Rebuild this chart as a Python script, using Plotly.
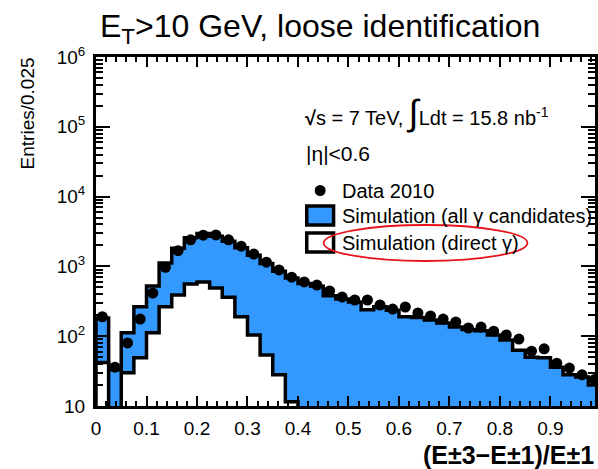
import numpy as np
import plotly.graph_objects as go

# ---- data (bin width 0.025, 40 bins from 0 to 1) ----
bin_width = 0.025
data_2010 = [190, 36, 80, 176, 415, 970, 1680, 2400, 2800, 2820, 2400, 1950, 1500, 1150,
             890, 700, 600, 540, 445, 363, 330, 330, 280, 245, 262, 215, 195, 176, 160, 131,
             135, 118, 104, 91, 61, 66, 41, 35, 28, 24]
sim_all = [182, 33, 112, 264, 525, 1120, 1820, 2570, 2950, 2700, 2300, 1850, 1450, 1100,
           850, 680, 570, 520, 380, 340, 310, 240, 265, 235, 190, 185, 170, 155, 135, 125,
           120, 104, 88, 63, 50, 49, 36, 28, 26, 20]
sim_direct = [42, 0, 30, 49, 112, 264, 390, 560, 600, 490, 360, 190, 104, 54, 28, 11.5,
              0, 0, 0, 0, 0, 0, 0, 0, 0, 0, 0, 0, 0, 0, 0, 0, 0, 0, 0, 0, 0, 0, 0, 0]
y_tick_vals = [10, 100, 1000, 10000, 100000, 1000000]
y_tick_text = ["10", "10<sup>2</sup>", "10<sup>3</sup>", "10<sup>4</sup>", "10<sup>5</sup>", "10<sup>6</sup>"]

BLUE = "#3399ff"
FONT = "Liberation Sans, Arial, sans-serif"

nb = len(data_2010)
edges = np.arange(nb + 1) * bin_width
centers = edges[:-1] + bin_width / 2
floor = 1.0  # below visible range -> clipped


def step_xy(vals):
    v = np.where(np.asarray(vals, float) > 0, vals, floor)
    xs = np.concatenate([[edges[0]], edges])
    ys = np.concatenate([[floor], v, [floor]])
    return xs, ys


fig = go.Figure()
xa, ya = step_xy(sim_all)
fig.add_trace(go.Scatter(x=xa, y=ya, mode="lines", line=dict(shape="hv", color="black", width=3.5),
                         fill="toself", fillcolor=BLUE, name="Simulation (all γ candidates)",
                         showlegend=False, hoverinfo="skip"))
xd, yd = step_xy(sim_direct)
fig.add_trace(go.Scatter(x=xd, y=yd, mode="lines", line=dict(shape="hv", color="black", width=3.5),
                         fill="toself", fillcolor="white", name="Simulation (direct γ)",
                         showlegend=False, hoverinfo="skip"))
fig.add_trace(go.Scatter(x=centers, y=data_2010, mode="markers",
                         marker=dict(color="black", size=11, symbol="circle"),
                         name="Data 2010", showlegend=False))

L, R, T, B = 96, 598, 57, 406


def px(x):
    return (x - L) / (R - L)


def py(y):
    return (B - y) / (B - T)


minor_y = [m * 10 ** e for e in range(1, 6) for m in range(2, 10)]

fig.update_xaxes(range=[0, (R - L) / 508.0], dtick=0.1, tick0=0,
                 ticks="inside", ticklen=10, tickwidth=1.5, tickcolor="black",
                 minor=dict(dtick=0.02, ticks="inside", ticklen=5, tickwidth=1.5, tickcolor="black"),
                 showline=True, linewidth=3, linecolor="black", mirror="ticks",
                 showgrid=False, zeroline=False,
                 tickfont=dict(family=FONT, size=19, color="black"), ticklabelstandoff=3)
fig.update_yaxes(type="log", range=[1, 6], tickmode="array", tickvals=y_tick_vals, ticktext=y_tick_text,
                 ticks="inside", ticklen=14, tickwidth=1.5, tickcolor="black",
                 minor=dict(tickmode="array", tickvals=minor_y, ticks="inside", ticklen=7,
                            tickwidth=1.5, tickcolor="black"),
                 showline=True, linewidth=3, linecolor="black", mirror="ticks",
                 showgrid=False, zeroline=False,
                 tickfont=dict(family=FONT, size=19, color="black"), ticklabelstandoff=4)

ann = []
ann.append(dict(text="E<sub>T</sub>&gt;10 GeV, loose identification", x=px(321), y=py(29),
                xanchor="center", yanchor="middle", font=dict(size=32)))
ann.append(dict(text="Entries/0.025", x=px(27), y=py(113), textangle=-90,
                xanchor="center", yanchor="middle", font=dict(size=19)))
ann.append(dict(text="<b>(E±3−E±1)/E±1</b>", x=px(423), y=py(455),
                xanchor="left", yanchor="middle", font=dict(size=25)))
ann.append(dict(text="<b>√</b>s = 7 TeV, <span style='font-size:36px'>∫</span>Ldt = 15.8 nb<sup>-1</sup>",
                x=px(304), y=py(112), xanchor="left", yanchor="middle", font=dict(size=20)))
ann.append(dict(text="|η|&lt;0.6", x=px(305), y=py(153), xanchor="left", yanchor="middle",
                font=dict(size=21)))
ann.append(dict(text="Data 2010", x=px(341), y=py(191), xanchor="left", yanchor="middle",
                font=dict(size=20)))
ann.append(dict(text="Simulation (all γ candidates)", x=px(341), y=py(216), xanchor="left",
                yanchor="middle", font=dict(size=20)))
ann.append(dict(text="Simulation (direct γ)", x=px(341), y=py(243), xanchor="left",
                yanchor="middle", font=dict(size=20)))
for a in ann:
    a.update(xref="paper", yref="paper", showarrow=False)
    a["font"].update(family=FONT, color="black")

shapes = [
    dict(type="circle", x0=px(316), x1=px(327), y0=py(196), y1=py(185),
         fillcolor="black", line=dict(color="black", width=0)),
    dict(type="rect", x0=px(308), x1=px(335), y0=py(225), y1=py(206),
         fillcolor=BLUE, line=dict(color="black", width=3.5)),
    dict(type="rect", x0=px(308), x1=px(335), y0=py(252), y1=py(233),
         fillcolor="white", line=dict(color="black", width=3.5)),
    dict(type="circle", x0=px(325), x1=px(530), y0=py(261), y1=py(225),
         line=dict(color="#e8141c", width=1.8)),
]
for s in shapes:
    s.update(xref="paper", yref="paper")

fig.update_layout(width=598, height=469, margin=dict(l=L, r=598 - R, t=T, b=469 - B),
                  paper_bgcolor="white", plot_bgcolor="white", showlegend=False,
                  annotations=ann, shapes=shapes, font=dict(family=FONT, color="black"))
fig.write_html("out.html")
